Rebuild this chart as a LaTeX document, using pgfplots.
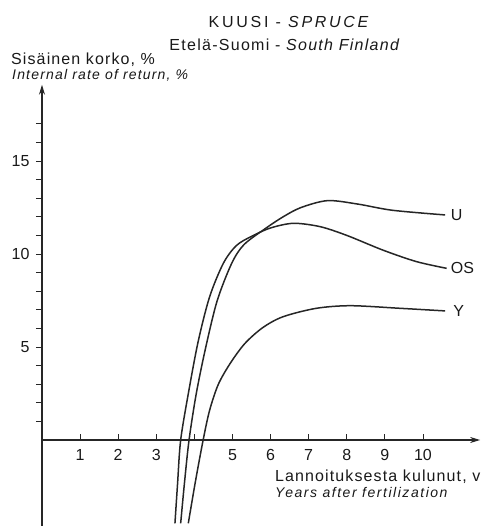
\documentclass[border=0pt]{standalone}
\usepackage{pgfplots}
\pgfplotsset{compat=1.18}
\usepackage{fontspec}
\setmainfont{Liberation Sans}
\usetikzlibrary{arrows.meta}
\newcommand\LS[1]{\addfontfeature{LetterSpace=#1}}
\newcommand\fs[1]{\fontsize{#1}{#1}\selectfont}
\begin{document}
\begin{tikzpicture}
\begin{axis}[
  x=38.1pt, y=18.6pt,
  xmin=0, xmax=11.5, ymin=-4.6, ymax=19.1,
  axis lines=middle,
  axis line style={line width=1.1pt, black!85, -{Stealth[length=10pt,width=6pt]}},
  clip=false,
  xtick={1,...,10},
  xticklabels={1,2,3,,5,6,7,8,9,10},
  ytick={1,...,17},
  yticklabels={,,,,5,,,,,10,,,,,15,,},
  major tick length=6pt,
  xtick style={black!85, line width=0.9pt, yshift=3pt},
  ytick style={black!85, line width=0.9pt, xshift=-3pt},
  /pgf/number format/assume math mode=true,
  xticklabel style={font=\fs{16}, text=black!90, yshift=-3pt},
  yticklabel style={font=\fs{16}, text=black!90, xshift=-6pt},
]
% OS
\addplot[black!85, line width=1.5pt, smooth] coordinates {
 (3.49,-4.48) (3.56,-2.3) (3.64,0) (3.85,2.6) (4.1,5.3) (4.4,7.7) (4.76,9.5) (5.1,10.45) (5.5,10.95)
 (6.0,11.4) (6.6,11.65) (7.3,11.47) (8.0,11.0) (8.96,10.2) (9.83,9.59) (10.62,9.23)};
% U
\addplot[black!85, line width=1.5pt, smooth] coordinates {
 (3.64,-4.48) (3.74,-2.3) (3.86,0) (4.05,2.5) (4.3,5.0) (4.6,7.5) (4.98,9.5) (5.3,10.5) (5.85,11.35)
 (6.33,12.0) (6.8,12.5) (7.5,12.87) (8.3,12.68) (9.2,12.35) (10.58,12.1)};
% Y
\addplot[black!85, line width=1.5pt, smooth] coordinates {
 (3.84,-4.48) (4.03,-2.2) (4.23,0) (4.4,1.6) (4.63,3.0) (4.95,4.15) (5.33,5.2) (5.8,6.05)
 (6.33,6.63) (7.2,7.08) (8.1,7.22) (9.4,7.08) (10.58,6.94)};
\node[anchor=west, font=\fs{16}, text=black!90, inner sep=0pt] at (axis cs:10.73,12.1) {U};
\node[anchor=west, font=\fs{16}, text=black!90, inner sep=0pt] at (axis cs:10.73,9.25) {OS};
\node[anchor=west, font=\fs{16}, text=black!90, inner sep=0pt] at (axis cs:10.79,6.94) {Y};
\node[font=\fs{16}\LS{17}, text=black!90, inner sep=0pt] at (axis cs:6.51,22.5) {KUUSI - \textit{SPRUCE}};
\node[font=\fs{16}\LS{8}, text=black!90, inner sep=0pt] at (axis cs:6.38,21.25) {Etelä-Suomi - \textit{South Finland}};
\node[anchor=west, font=\fs{16}\LS{7}, text=black!90, inner sep=0pt] at (axis cs:-0.814,20.43) {Sisäinen korko, \%};
\node[anchor=west, font=\fs{14}\LS{8.5}\itshape, text=black!90, inner sep=0pt] at (axis cs:-0.787,19.62) {Internal rate of return, \%};
\node[anchor=west, font=\fs{16}\LS{7}, text=black!90, inner sep=0pt] at (axis cs:6.115,-1.99) {Lannoituksesta kulunut, v};
\node[anchor=west, font=\fs{14}\LS{11}\itshape, text=black!90, inner sep=0pt] at (axis cs:6.115,-2.80) {Years after fertilization};
\path (axis cs:-1.102,-4.785) rectangle (axis cs:11.60,23.656);
\end{axis}
\end{tikzpicture}
\end{document}
